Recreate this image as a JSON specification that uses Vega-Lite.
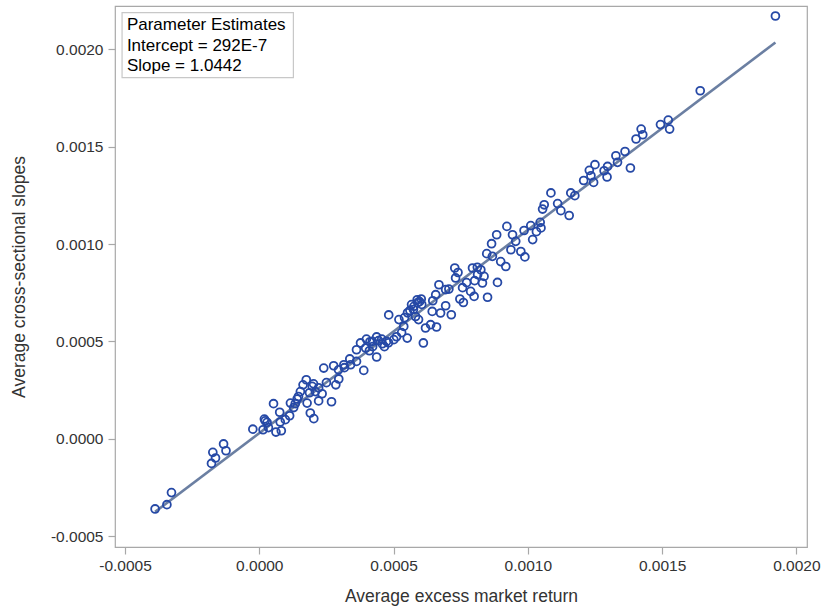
{
  "$schema": "https://vega.github.io/schema/vega-lite/v6.json",
  "autosize": {"type": "none"},
  "width": 692,
  "height": 541,
  "padding": {"left": 115, "top": 6, "right": 18, "bottom": 65},
  "background": "white",
  "config": {
    "font": "Liberation Sans",
    "view": {"stroke": "#a8a8a8", "strokeWidth": 1.2},
    "axis": {
      "domain": false,
      "grid": false,
      "tickColor": "#a8a8a8",
      "tickSize": 7,
      "tickWidth": 1.2,
      "labelFont": "Liberation Sans",
      "labelFontSize": 15.5,
      "labelColor": "#333333",
      "titleFont": "Liberation Sans",
      "titleFontSize": 17.5,
      "titleFontWeight": "normal",
      "titleColor": "#333333"
    }
  },
  "datasets": {
    "returns": [
      {"mkt": -0.000388, "slope": -0.000361},
      {"mkt": -0.000344, "slope": -0.000339},
      {"mkt": -0.000327, "slope": -0.000277},
      {"mkt": -0.000178, "slope": -0.000127},
      {"mkt": -0.000173, "slope": -0.000070},
      {"mkt": -0.000163, "slope": -0.000099},
      {"mkt": -0.000133, "slope": -0.000027},
      {"mkt": -0.000124, "slope": -0.000062},
      {"mkt": -0.000024, "slope": 0.000049},
      {"mkt": 0.000014, "slope": 0.000046},
      {"mkt": 0.000019, "slope": 0.000101},
      {"mkt": 0.000022, "slope": 0.000092},
      {"mkt": 0.000029, "slope": 0.000084},
      {"mkt": 0.000053, "slope": 0.000180},
      {"mkt": 0.000062, "slope": 0.000034},
      {"mkt": 0.000082, "slope": 0.000041},
      {"mkt": 0.000078, "slope": 0.000086},
      {"mkt": 0.000076, "slope": 0.000136},
      {"mkt": 0.000113, "slope": 0.000118},
      {"mkt": 0.000116, "slope": 0.000183},
      {"mkt": 0.000141, "slope": 0.000204},
      {"mkt": 0.000146, "slope": 0.000217},
      {"mkt": 0.000163, "slope": 0.000277},
      {"mkt": 0.000175, "slope": 0.000303},
      {"mkt": 0.000190, "slope": 0.000132},
      {"mkt": 0.000203, "slope": 0.000103},
      {"mkt": 0.000221, "slope": 0.000194},
      {"mkt": 0.000234, "slope": 0.000231},
      {"mkt": 0.000269, "slope": 0.000190},
      {"mkt": 0.000285, "slope": 0.000277},
      {"mkt": 0.000178, "slope": 0.000183},
      {"mkt": 0.000197, "slope": 0.000269},
      {"mkt": 0.000221, "slope": 0.000261},
      {"mkt": 0.000296, "slope": 0.000307},
      {"mkt": 0.000240, "slope": 0.000363},
      {"mkt": 0.000277, "slope": 0.000375},
      {"mkt": 0.000315, "slope": 0.000380},
      {"mkt": 0.000337, "slope": 0.000410},
      {"mkt": 0.000362, "slope": 0.000397},
      {"mkt": 0.000389, "slope": 0.000351},
      {"mkt": 0.000362, "slope": 0.000457},
      {"mkt": 0.000377, "slope": 0.000492},
      {"mkt": 0.000399, "slope": 0.000512},
      {"mkt": 0.000396, "slope": 0.000466},
      {"mkt": 0.000421, "slope": 0.000500},
      {"mkt": 0.000437, "slope": 0.000523},
      {"mkt": 0.000437, "slope": 0.000420},
      {"mkt": 0.000458, "slope": 0.000488},
      {"mkt": 0.000474, "slope": 0.000500},
      {"mkt": 0.000501, "slope": 0.000509},
      {"mkt": 0.000482, "slope": 0.000636},
      {"mkt": 0.000520, "slope": 0.000612},
      {"mkt": 0.000538, "slope": 0.000577},
      {"mkt": 0.000551, "slope": 0.000517},
      {"mkt": 0.000561, "slope": 0.000659},
      {"mkt": 0.000576, "slope": 0.000680},
      {"mkt": 0.000588, "slope": 0.000714},
      {"mkt": 0.000603, "slope": 0.000718},
      {"mkt": 0.000582, "slope": 0.000628},
      {"mkt": 0.000593, "slope": 0.000612},
      {"mkt": 0.000619, "slope": 0.000569},
      {"mkt": 0.000611, "slope": 0.000492},
      {"mkt": 0.000644, "slope": 0.000654},
      {"mkt": 0.000660, "slope": 0.000574},
      {"mkt": 0.000675, "slope": 0.000646},
      {"mkt": 0.000694, "slope": 0.000683},
      {"mkt": 0.000715, "slope": 0.000637},
      {"mkt": 0.000706, "slope": 0.000769},
      {"mkt": 0.000728, "slope": 0.000877},
      {"mkt": 0.000731, "slope": 0.000826},
      {"mkt": 0.000669, "slope": 0.000791},
      {"mkt": 0.000657, "slope": 0.000740},
      {"mkt": 0.000747, "slope": 0.000718},
      {"mkt": 0.000760, "slope": 0.000700},
      {"mkt": 0.000787, "slope": 0.000757},
      {"mkt": 0.000800, "slope": 0.000731},
      {"mkt": 0.000794, "slope": 0.000877},
      {"mkt": 0.000825, "slope": 0.000868},
      {"mkt": 0.000837, "slope": 0.000834},
      {"mkt": 0.000850, "slope": 0.000727},
      {"mkt": 0.000831, "slope": 0.000800},
      {"mkt": 0.000847, "slope": 0.000951},
      {"mkt": 0.000887, "slope": 0.000803},
      {"mkt": 0.000868, "slope": 0.000937},
      {"mkt": 0.000918, "slope": 0.000885},
      {"mkt": 0.000865, "slope": 0.001002},
      {"mkt": 0.000884, "slope": 0.001048},
      {"mkt": 0.000922, "slope": 0.001091},
      {"mkt": 0.000943, "slope": 0.001048},
      {"mkt": 0.000955, "slope": 0.001014},
      {"mkt": 0.000974, "slope": 0.000962},
      {"mkt": 0.000989, "slope": 0.000934},
      {"mkt": 0.001018, "slope": 0.001023},
      {"mkt": 0.000986, "slope": 0.001070},
      {"mkt": 0.001011, "slope": 0.001095},
      {"mkt": 0.001046, "slope": 0.001112},
      {"mkt": 0.001049, "slope": 0.001083},
      {"mkt": 0.001055, "slope": 0.001180},
      {"mkt": 0.001061, "slope": 0.001202},
      {"mkt": 0.001086, "slope": 0.001263},
      {"mkt": 0.001111, "slope": 0.001208},
      {"mkt": 0.001123, "slope": 0.001172},
      {"mkt": 0.001154, "slope": 0.001147},
      {"mkt": 0.001160, "slope": 0.001263},
      {"mkt": 0.001208, "slope": 0.001327},
      {"mkt": 0.001229, "slope": 0.001379},
      {"mkt": 0.001235, "slope": 0.001351},
      {"mkt": 0.001245, "slope": 0.001317},
      {"mkt": 0.001250, "slope": 0.001408},
      {"mkt": 0.001295, "slope": 0.001345},
      {"mkt": 0.001297, "slope": 0.001399},
      {"mkt": 0.001328, "slope": 0.001454},
      {"mkt": 0.001334, "slope": 0.001420},
      {"mkt": 0.001362, "slope": 0.001476},
      {"mkt": 0.001382, "slope": 0.001391},
      {"mkt": 0.001403, "slope": 0.001540},
      {"mkt": 0.001422, "slope": 0.001591},
      {"mkt": 0.001428, "slope": 0.001562},
      {"mkt": 0.001494, "slope": 0.001614},
      {"mkt": 0.001523, "slope": 0.001637},
      {"mkt": 0.001528, "slope": 0.001591},
      {"mkt": 0.001642, "slope": 0.001788},
      {"mkt": 0.001922, "slope": 0.002172},
      {"mkt": 0.000541, "slope": 0.000622},
      {"mkt": 0.000552, "slope": 0.000647},
      {"mkt": 0.000567, "slope": 0.000689},
      {"mkt": 0.000590, "slope": 0.000699},
      {"mkt": 0.000511, "slope": 0.000524},
      {"mkt": 0.000530, "slope": 0.000545},
      {"mkt": 0.000410, "slope": 0.000452},
      {"mkt": 0.000422, "slope": 0.000473},
      {"mkt": 0.000317, "slope": 0.000365},
      {"mkt": 0.000340, "slope": 0.000380},
      {"mkt": 0.000694, "slope": 0.000766},
      {"mkt": 0.000757, "slope": 0.000776},
      {"mkt": 0.000772, "slope": 0.000802},
      {"mkt": 0.000802, "slope": 0.000812},
      {"mkt": 0.000813, "slope": 0.000843},
      {"mkt": 0.000638, "slope": 0.000586},
      {"mkt": 0.000134, "slope": 0.000180},
      {"mkt": 0.000153, "slope": 0.000242},
      {"mkt": 0.000209, "slope": 0.000242},
      {"mkt": 0.000097, "slope": 0.000098},
      {"mkt": 0.000034, "slope": 0.000057},
      {"mkt": 0.000250, "slope": 0.000288},
      {"mkt": 0.000187, "slope": 0.000236},
      {"mkt": 0.000444, "slope": 0.000504},
      {"mkt": 0.000466, "slope": 0.000473},
      {"mkt": 0.000481, "slope": 0.000493},
      {"mkt": 0.000646, "slope": 0.000709},
      {"mkt": 0.000899, "slope": 0.000910},
      {"mkt": 0.000937, "slope": 0.000971},
      {"mkt": 0.001284, "slope": 0.001377},
      {"mkt": 0.001175, "slope": 0.001249},
      {"mkt": 0.000574, "slope": 0.000664},
      {"mkt": 0.000597, "slope": 0.000704},
      {"mkt": 0.000605, "slope": 0.000690},
      {"mkt": 0.000456, "slope": 0.000512},
      {"mkt": 0.000412, "slope": 0.000498},
      {"mkt": 0.000295, "slope": 0.000354},
      {"mkt": 0.000202, "slope": 0.000282},
      {"mkt": 0.000128, "slope": 0.000160},
      {"mkt": 0.000740, "slope": 0.000854},
      {"mkt": 0.000812, "slope": 0.000881},
      {"mkt": 0.001032, "slope": 0.001064}
    ],
    "fit": [
      {"mkt": -0.000388, "slope": -0.00037604},
      {"mkt": 0.001922, "slope": 0.00203600}
    ],
    "box": [
      {"x1": -0.000511, "x2": 0.000127, "y1": 0.002189, "y2": 0.001855}
    ],
    "estimates": [
      {"line": "Parameter Estimates", "mkt": -0.000493, "slope": 0.002099},
      {"line": "Intercept = 292E-7", "mkt": -0.000493, "slope": 0.001993},
      {"line": "Slope = 1.0442", "mkt": -0.000493, "slope": 0.001888}
    ]
  },
  "encoding": {
    "x": {
      "field": "mkt",
      "type": "quantitative",
      "title": "Average excess market return",
      "scale": {"domain": [-0.0005373, 0.0020396], "nice": false, "zero": false},
      "axis": {
        "values": [-0.0005, 0, 0.0005, 0.001, 0.0015, 0.002],
        "labelExpr": "replace(format(datum.value, '.4f'), '\u2212', '-')",
        "labelPadding": 4,
        "titlePadding": 14
      }
    },
    "y": {
      "field": "slope",
      "type": "quantitative",
      "title": "Average cross-sectional slopes",
      "scale": {"domain": [-0.0005565, 0.0022235], "nice": false, "zero": false},
      "axis": {
        "values": [-0.0005, 0, 0.0005, 0.001, 0.0015, 0.002],
        "labelExpr": "replace(format(datum.value, '.4f'), '\u2212', '-')",
        "labelPadding": 5,
        "titlePadding": 22
      }
    }
  },
  "layer": [
    {
      "data": {"name": "box"},
      "mark": {"type": "rect", "fill": "white", "stroke": "#c8c8c8", "strokeWidth": 1.2},
      "encoding": {
        "x": {"field": "x1", "type": "quantitative"},
        "x2": {"field": "x2"},
        "y": {"field": "y1", "type": "quantitative"},
        "y2": {"field": "y2"}
      }
    },
    {
      "data": {"name": "estimates"},
      "mark": {"type": "text", "align": "left", "baseline": "alphabetic", "fontSize": 17, "color": "#000000", "font": "Liberation Sans"},
      "encoding": {"text": {"field": "line"}}
    },
    {
      "data": {"name": "fit"},
      "mark": {"type": "line", "color": "#6b7fa2", "strokeWidth": 2.6},
      "encoding": {}
    },
    {
      "data": {"name": "returns"},
      "mark": {"type": "point", "shape": "circle", "filled": false, "size": 62, "strokeWidth": 1.8, "color": "#2649a6", "opacity": 1},
      "encoding": {}
    }
  ]
}
